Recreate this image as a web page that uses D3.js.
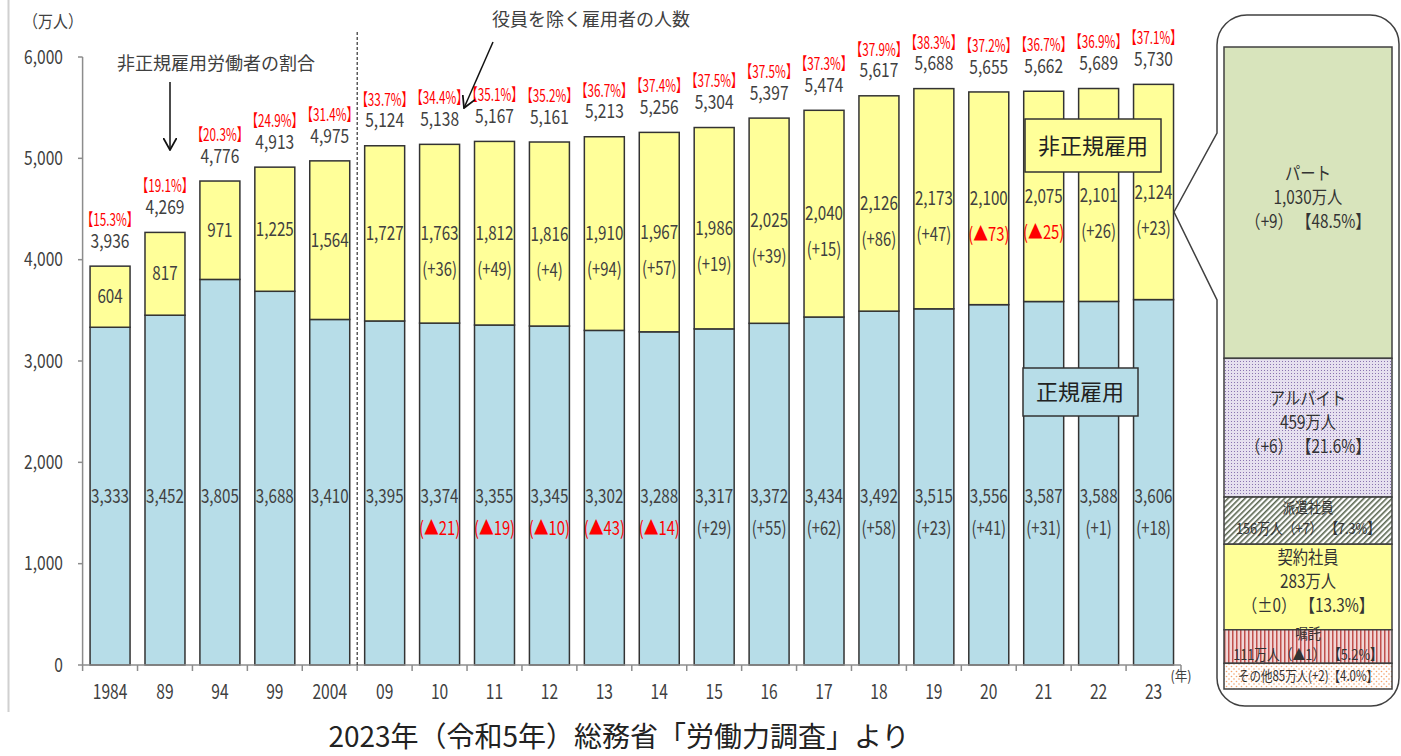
<!DOCTYPE html>
<html>
<head>
<meta charset="utf-8">
<script src="https://cdn.jsdelivr.net/npm/d3@7"></script>
<style>
  body { margin: 0; background: #fff; }
  svg text { font-family: "Noto Sans CJK JP", "Noto Sans", sans-serif; }
</style>
</head>
<body>
<div id="container"></div>
<script>
const w = 1401;
const h = 756;

// chart data (万人)
const years = ["1984", "89", "94", "99", "2004", "09", "10", "11", "12", "13", "14", "15", "16", "17", "18", "19", "20", "21", "22", "23"];
const totals = [3936, 4269, 4776, 4913, 4975, 5124, 5138, 5167, 5161, 5213, 5256, 5304, 5397, 5474, 5617, 5688, 5655, 5662, 5689, 5730];
const regular = [3333, 3452, 3805, 3688, 3410, 3395, 3374, 3355, 3345, 3302, 3288, 3317, 3372, 3434, 3492, 3515, 3556, 3587, 3588, 3606];
const nonRegular = [604, 817, 971, 1225, 1564, 1727, 1763, 1812, 1816, 1910, 1967, 1986, 2025, 2040, 2126, 2173, 2100, 2075, 2101, 2124];
const shares = [15.3, 19.1, 20.3, 24.9, 31.4, 33.7, 34.4, 35.1, 35.2, 36.7, 37.4, 37.5, 37.5, 37.3, 37.9, 38.3, 37.2, 36.7, 36.9, 37.1];
const regularChange = [null, null, null, null, null, null, -21, -19, -10, -43, -14, 29, 55, 62, 58, 23, 41, 31, 1, 18];
const nonRegularChange = [null, null, null, null, null, null, 36, 49, 4, 94, 57, 19, 39, 15, 86, 47, -73, -25, 26, 23];
const yTicks = [0, 1000, 2000, 3000, 4000, 5000, 6000];

// 2023 breakdown of non-regular workers
const breakdownNames = ["パート", "アルバイト", "派遣社員", "契約社員", "嘱託", "その他"];
const breakdownValues = [1030, 459, 156, 283, 111, 85];
const breakdownChange = ["+9", "+6", "+7", "±0", "▲1", "+2"];
const breakdownShares = ["48.5", "21.6", "7.3", "13.3", "5.2", "4.0"];

const textColor = "#404040";
const red = "#ff0000";
const blue = "#b7dde8";
const yellow = "#ffff99";

const svg = d3.select("#container")
  .append("svg")
  .attr("width", w)
  .attr("height", h);

const defs = svg.append("defs");

// patterns for the breakdown column
const pDots = defs.append("pattern").attr("id", "pat-arbeit")
  .attr("width", 3).attr("height", 3).attr("patternUnits", "userSpaceOnUse");
pDots.append("rect").attr("width", 3).attr("height", 3).attr("fill", "#e6e0ef");
pDots.append("rect").attr("x", 1).attr("y", 1).attr("width", 1).attr("height", 1).attr("fill", "#8a74b0");

const pHatch = defs.append("pattern").attr("id", "pat-haken")
  .attr("width", 4).attr("height", 4).attr("patternUnits", "userSpaceOnUse")
  .attr("patternTransform", "rotate(45)");
pHatch.append("rect").attr("width", 4).attr("height", 4).attr("fill", "#ffffff");
pHatch.append("rect").attr("width", 1.6).attr("height", 4).attr("fill", "#5a6650");

const pStripe = defs.append("pattern").attr("id", "pat-shokutaku")
  .attr("width", 4).attr("height", 4).attr("patternUnits", "userSpaceOnUse");
pStripe.append("rect").attr("width", 4).attr("height", 4).attr("fill", "#f2d6d6");
pStripe.append("rect").attr("width", 1.5).attr("height", 4).attr("fill", "#c0504d");

const pOther = defs.append("pattern").attr("id", "pat-other")
  .attr("width", 5).attr("height", 5).attr("patternUnits", "userSpaceOnUse");
pOther.append("rect").attr("width", 5).attr("height", 5).attr("fill", "#ffffff");
pOther.append("circle").attr("cx", 1.5).attr("cy", 1.5).attr("r", 0.8).attr("fill", "#f5a36b");
pOther.append("circle").attr("cx", 4).attr("cy", 4).attr("r", 0.8).attr("fill", "#f5a36b");

const breakdownFills = ["#d8e4bc", "url(#pat-arbeit)", "url(#pat-haken)", yellow, "url(#pat-shokutaku)", "url(#pat-other)"];

// condensed text helper (the original uses a narrow font)
function label(g, x, y, txt, size, color, sx, anchor) {
  return g.append("text")
    .attr("transform", "translate(" + x + "," + y + ") scale(" + (sx || 0.8) + ",1)")
    .attr("text-anchor", anchor || "middle")
    .attr("dy", "0.35em")
    .attr("font-size", size)
    .attr("fill", color)
    .text(txt);
}

const fmt = d3.format(",");
const chg = (v) => v < 0 ? "(▲" + Math.abs(v) + ")" : "(+" + v + ")";

// scales
const xScale = d3.scaleBand()
  .domain(years)
  .range([82.6, 1181])
  .paddingInner(0.272)
  .paddingOuter(0.136);

const yScale = d3.scaleLinear()
  .domain([0, 6000])
  .range([665, 57]);

const step = xScale.step();
const x0 = xScale.range()[0];

// frame line on the left
svg.append("line")
  .attr("x1", 8.5).attr("x2", 8.5).attr("y1", 0).attr("y2", 712)
  .attr("stroke", "#d0d0d0").attr("stroke-width", 2);

// y axis
const yAxis = svg.append("g");
yAxis.append("line")
  .attr("x1", 82.6).attr("x2", 82.6)
  .attr("y1", yScale(6000)).attr("y2", yScale(0))
  .attr("stroke", "#8c8c8c").attr("stroke-width", 1.5);
yTicks.forEach((t) => {
  yAxis.append("line")
    .attr("x1", 78).attr("x2", 82.6)
    .attr("y1", yScale(t)).attr("y2", yScale(t))
    .attr("stroke", "#8c8c8c").attr("stroke-width", 1.5);
  label(yAxis, 63, yScale(t), fmt(t), 19, textColor, 0.82, "end");
});
label(svg, 53, 22, "（万人）", 17, textColor, 0.88);

// stacked bars
const bars = svg.append("g");
years.forEach((yr, i) => {
  const bx = xScale(yr);
  const bw = xScale.bandwidth();
  bars.append("rect")
    .attr("x", bx).attr("y", yScale(regular[i]))
    .attr("width", bw).attr("height", yScale(0) - yScale(regular[i]))
    .attr("fill", blue).attr("stroke", "#333").attr("stroke-width", 1.5);
  bars.append("rect")
    .attr("x", bx).attr("y", yScale(totals[i]))
    .attr("width", bw).attr("height", yScale(regular[i]) - yScale(totals[i]))
    .attr("fill", yellow).attr("stroke", "#333").attr("stroke-width", 1.5);
});

// x axis
const xAxis = svg.append("g");
xAxis.append("line")
  .attr("x1", x0).attr("x2", xScale.range()[1])
  .attr("y1", yScale(0)).attr("y2", yScale(0))
  .attr("stroke", "#8c8c8c").attr("stroke-width", 1.5);
d3.range(years.length + 1).forEach((k) => {
  xAxis.append("line")
    .attr("x1", x0 + k * step).attr("x2", x0 + k * step)
    .attr("y1", yScale(0)).attr("y2", yScale(0) + 6)
    .attr("stroke", "#8c8c8c").attr("stroke-width", 1.5);
});
years.forEach((yr) => {
  label(xAxis, xScale(yr) + xScale.bandwidth() / 2, 692, yr, 20, textColor, 0.78);
});
label(xAxis, 1181, 676, "(年)", 14, textColor, 0.9);

// dashed separator between 2004 and 09
svg.append("line")
  .attr("x1", x0 + 5 * step).attr("x2", x0 + 5 * step)
  .attr("y1", 32).attr("y2", yScale(0))
  .attr("stroke", "#333").attr("stroke-width", 1.2)
  .attr("stroke-dasharray", "3,2");

// value labels
const labels = svg.append("g");
years.forEach((yr, i) => {
  const cx = xScale(yr) + xScale.bandwidth() / 2;
  const top = yScale(totals[i]);
  label(labels, cx, top - 25, fmt(totals[i]), 19, textColor, 0.82);
  label(labels, cx, top - 46, "【" + shares[i].toFixed(1) + "%】", 17, red, 0.69);

  const mid = (yScale(totals[i]) + yScale(regular[i])) / 2;
  label(labels, cx, mid, fmt(nonRegular[i]), 19, textColor, 0.8);
  if (nonRegularChange[i] !== null) {
    label(labels, cx, mid + 36, chg(nonRegularChange[i]), 19, nonRegularChange[i] < 0 ? red : textColor, 0.78);
  }
  label(labels, cx, yScale(1660), fmt(regular[i]), 19, textColor, 0.8);
  if (regularChange[i] !== null) {
    label(labels, cx, yScale(1350), chg(regularChange[i]), 19, regularChange[i] < 0 ? red : textColor, 0.78);
  }
});

// annotations
const notes = svg.append("g");
defs.append("marker").attr("id", "arrow")
  .attr("viewBox", "0 0 10 10").attr("refX", 9).attr("refY", 5)
  .attr("markerWidth", 9).attr("markerHeight", 9).attr("orient", "auto")
  .append("path").attr("d", "M0,0 L9,5 L0,10").attr("fill", "none")
  .attr("stroke", "#111").attr("stroke-width", 1.3);

notes.append("text")
  .attr("x", 216).attr("y", 64).attr("dy", "0.35em")
  .attr("text-anchor", "middle").attr("font-size", 18).attr("fill", textColor)
  .text("非正規雇用労働者の割合");
notes.append("line")
  .attr("x1", 170).attr("y1", 82).attr("x2", 170).attr("y2", 150)
  .attr("stroke", "#111").attr("stroke-width", 1.5).attr("marker-end", "url(#arrow)");

notes.append("text")
  .attr("x", 591).attr("y", 20).attr("dy", "0.35em")
  .attr("text-anchor", "middle").attr("font-size", 18).attr("fill", textColor)
  .text("役員を除く雇用者の人数");
notes.append("line")
  .attr("x1", 493).attr("y1", 42).attr("x2", 464).attr("y2", 108)
  .attr("stroke", "#111").attr("stroke-width", 1.5).attr("marker-end", "url(#arrow)");

notes.append("rect")
  .attr("x", 1025).attr("y", 119).attr("width", 136).attr("height", 53)
  .attr("fill", yellow).attr("stroke", "#333").attr("stroke-width", 1.5);
notes.append("text")
  .attr("x", 1093).attr("y", 146).attr("dy", "0.35em")
  .attr("text-anchor", "middle").attr("font-size", 22).attr("fill", "#222")
  .text("非正規雇用");

notes.append("rect")
  .attr("x", 1023).attr("y", 368).attr("width", 115).attr("height", 48)
  .attr("fill", blue).attr("stroke", "#333").attr("stroke-width", 1.5);
notes.append("text")
  .attr("x", 1080).attr("y", 392).attr("dy", "0.35em")
  .attr("text-anchor", "middle").attr("font-size", 22).attr("fill", "#222")
  .text("正規雇用");

// breakdown callout panel
svg.append("path")
  .attr("d", "M1217,45 A30,30 0 0 1 1247,15 L1370,15 A29,29 0 0 1 1399,44 L1399,678 A28,28 0 0 1 1371,706 L1245,706 A28,28 0 0 1 1217,678 L1217,300 L1174,212 L1217,133 Z")
  .attr("fill", "#fff").attr("stroke", "#404040").attr("stroke-width", 1.5);

const bScale = d3.scaleLinear()
  .domain([0, d3.sum(breakdownValues)])
  .range([47, 689]);
const bx1 = 1224, bx2 = 1392, bcx = (bx1 + bx2) / 2;
const panel = svg.append("g");
let acc = 0;
breakdownValues.forEach((v, i) => {
  const y1 = bScale(acc), y2 = bScale(acc + v);
  acc += v;
  panel.append("rect")
    .attr("x", bx1).attr("y", y1).attr("width", bx2 - bx1).attr("height", y2 - y1)
    .attr("fill", breakdownFills[i]).attr("stroke", "#404040").attr("stroke-width", 1.5);
  const m = (y1 + y2) / 2;
  const c = "（" + breakdownChange[i] + "）";
  const s = "【" + breakdownShares[i] + "%】";
  if (y2 - y1 > 70) {
    label(panel, bcx, m - 29, breakdownNames[i], 18, "#333", 0.85);
    label(panel, bcx, m - 5, fmt(v) + "万人", 18, "#333", 0.85);
    label(panel, bcx, m + 19, c + " " + s, 18, "#333", 0.85);
  } else if (y2 - y1 > 30) {
    label(panel, bcx, m - 13, breakdownNames[i], 15, "#333", 0.85);
    label(panel, bcx, m + 8, fmt(v) + "万人" + c + " " + s, 15, "#333", 0.85);
  } else {
    label(panel, bcx, m, breakdownNames[i] + fmt(v) + "万人(" + breakdownChange[i] + ")" + s, 14, "#333", 0.82);
  }
});

// source
svg.append("text")
  .attr("x", 619).attr("y", 737).attr("dy", "0.35em")
  .attr("text-anchor", "middle").attr("font-size", 28).attr("fill", "#222")
  .text("2023年（令和5年）総務省「労働力調査」より");
</script>
</body>
</html>
